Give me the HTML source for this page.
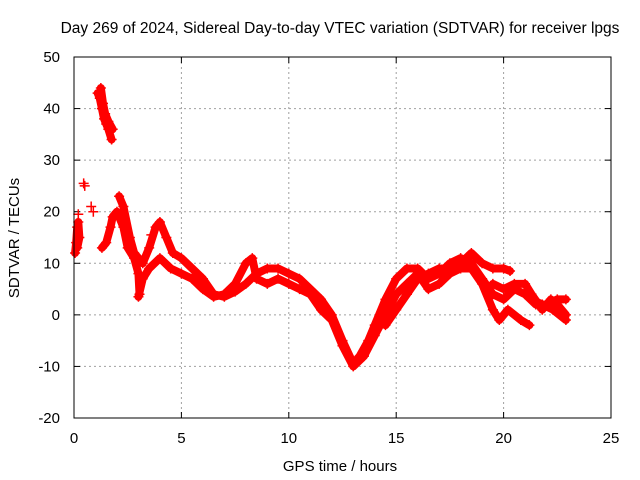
<!DOCTYPE html>
<html><head><meta charset="utf-8"><style>
body{margin:0;background:#fff}
svg{display:block;font-family:"Liberation Sans",sans-serif}
</style></head><body>
<svg id="c" width="640" height="480" xmlns="http://www.w3.org/2000/svg"></svg>
<script>
const xTicks=[0,5,10,15,20,25];
const yTicks=[-20,-10,0,10,20,30,40,50];
const trackA=[[0.05,12],[0.1,14],[0.15,17],[0.2,18],[0.25,15],[0.15,13]];
const trackB=[[1.1,43],[1.2,42],[1.3,40],[1.4,38],[1.5,37],[1.6,36],[1.75,34]];
const trackB2=[[1.25,44],[1.35,41],[1.45,39],[1.6,37.5],[1.8,36]];
const trackC=[[1.3,13],[1.5,14],[1.7,17],[1.8,19],[2.0,20],[2.3,17],[2.5,13],[2.8,11],[3.0,8],[3.05,4]];
const trackD=[[2.1,23],[2.3,21],[2.6,15],[2.8,12],[3.2,10],[3.5,13],[3.8,17],[4.0,18],[4.3,15],[4.6,12],[5.0,11],[5.5,9],[6,7],[6.5,4],[7,3.5],[7.5,4.5],[8,6],[8.5,8],[9,9],[9.5,9],[10,8],[10.5,7],[11,5],[11.5,3],[12,0],[12.5,-5],[13,-9.5],[13.3,-8],[13.7,-5],[14,-2],[14.5,3],[15,7],[15.5,9],[16,9],[16.5,7],[17,8],[17.5,10],[18,11],[18.5,10],[19,7],[19.5,4],[20,3],[20.5,5],[21,4],[21.5,2],[22,2],[22.5,3],[22.9,3]];
const trackE=[[3,3.5],[3.2,7],[3.5,9],[4,11],[4.5,9],[5,8],[5.5,7],[6,5],[6.5,3.5],[7,4],[7.5,6],[8,10],[8.3,11],[8.5,7],[9,6],[9.5,7],[10,6],[10.5,5],[11,4],[11.5,1],[12,-1],[12.5,-6],[13,-10],[13.5,-8],[14,-4],[14.5,0],[15,4],[15.5,6],[16,8],[16.5,5],[17,6],[17.5,8],[18,9],[18.5,9],[19,6],[19.5,1],[19.8,-1],[20.2,1],[20.8,-1],[21.2,-2]];
const trackF=[[14.5,-2],[15,1],[15.5,4],[16,7],[16.5,8],[17,9],[17.5,9],[18,10],[18.5,12],[19,10],[19.5,9],[20,9],[20.3,8.5]];
const trackG=[[19.5,6],[20,5],[20.5,6],[21,6],[21.3,4],[21.8,1],[22.2,3],[22.5,2],[22.9,0]];
const trackH=[[21.3,3],[21.8,2],[22.3,1],[22.9,-1]];
const singles=[[0.5,25],[0.45,25.5],[0.8,21],[0.9,20],[3.6,15.5],[0.2,19.5]];
const tracks=[trackA,trackB,trackB2,trackC,trackD,trackE,trackF,trackG,trackH];
const L=74,R=611,T=57,B=418;
const sx=v=>L+(v-0)/25*(R-L), sy=v=>B-(v+20)/70*(B-T);
const svg=document.getElementById('c');const NS='http://www.w3.org/2000/svg';
function mk(t,a,p){const e=document.createElementNS(NS,t);for(const k in a)e.setAttribute(k,a[k]);(p||svg).appendChild(e);return e;}
const g=mk('g',{});


xTicks.forEach(v=>{if(v>0&&v<25)mk('line',{x1:sx(v),x2:sx(v),y1:T,y2:B,stroke:'#a0a0a0','stroke-dasharray':'2,3'},g);
 const t=mk('text',{x:sx(v),y:B+25,'text-anchor':'middle','font-size':15});t.textContent=v;
 
 
 mk('line',{x1:sx(v),x2:sx(v),y1:B,y2:B-6,stroke:'#000'});mk('line',{x1:sx(v),x2:sx(v),y1:T,y2:T+6,stroke:'#000'});});
yTicks.forEach(v=>{if(v>-20&&v<50)mk('line',{x1:L,x2:R,y1:sy(v),y2:sy(v),stroke:'#a0a0a0','stroke-dasharray':'2,3'},g);
 const t=mk('text',{x:L-14,y:sy(v)+5,'text-anchor':'end','font-size':15});t.textContent=v;
 
 
 mk('line',{x1:L,x2:L+6,y1:sy(v),y2:sy(v),stroke:'#000'});mk('line',{x1:R,x2:R-6,y1:sy(v),y2:sy(v),stroke:'#000'});});
const d=mk('g',{});


tracks.forEach(tr=>{const p=mk('polyline',{points:tr.map(q=>sx(q[0])+','+sy(q[1])).join(' '),fill:'none',stroke:'#ff0000','stroke-width':8,'stroke-linejoin':'round','stroke-linecap':'round'},d);
 
 });
tracks.concat([singles]).forEach(tr=>tr.forEach(q=>{const x=sx(q[0]),y=sy(q[1]);
 const m=mk('path',{d:`M${x-5},${y}h10M${x},${y-5}v10`,stroke:'#ff0000','stroke-width':1.5},d);
 
 }));
const f=mk('rect',{x:L,y:T,width:R-L,height:B-T,fill:'none',stroke:'#000'});


const ti=mk('text',{x:340,y:33,'text-anchor':'middle','font-size':15.5});ti.textContent='Day 269 of 2024, Sidereal Day-to-day VTEC variation (SDTVAR) for receiver lpgs';


const xt=mk('text',{x:340,y:471,'text-anchor':'middle','font-size':15});xt.textContent='GPS time / hours';


const yt=mk('text',{x:19,y:238,'text-anchor':'middle','font-size':15,transform:'rotate(-90 19 238)'});yt.textContent='SDTVAR / TECUs';


</script>
</body></html>
